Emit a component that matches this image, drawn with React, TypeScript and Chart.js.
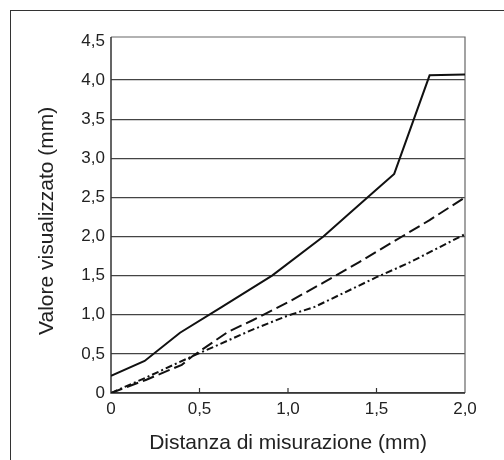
import React, { useEffect, useRef } from 'react';
import { Chart, registerables } from 'chart.js';

Chart.register(...registerables);

const solidX = [0, 0.19, 0.39, 0.62, 0.91, 1.2, 1.34, 1.5, 1.6, 1.8, 2.0];
const solidY = [0.22, 0.41, 0.77, 1.09, 1.5, 2.0, 2.28, 2.6, 2.8, 4.06, 4.07];

const dashX = [0, 0.2, 0.4, 0.46, 0.66, 0.8, 1.0, 1.2, 1.4, 1.6, 1.8, 2.0];
const dashY = [0, 0.17, 0.36, 0.47, 0.78, 0.93, 1.16, 1.41, 1.67, 1.94, 2.21, 2.5];

const dotDashX = [0, 0.2, 0.44, 0.8, 1.0, 1.15, 1.5, 1.68, 2.0];
const dotDashY = [0, 0.2, 0.45, 0.81, 0.99, 1.1, 1.48, 1.66, 2.03];

const xTickValues = [0, 0.5, 1, 1.5, 2];
const xTickLabels = ['0', '0,5', '1,0', '1,5', '2,0'];
const yTickValues = [0, 0.5, 1, 1.5, 2, 2.5, 3, 3.5, 4, 4.5];
const yTickLabels = ['0', '0,5', '1,0', '1,5', '2,0', '2,5', '3,0', '3,5', '4,0', '4,5'];

const xTitle = 'Distanza di misurazione (mm)';
const yTitle = 'Valore visualizzato (mm)  ';

const FONT = "'Liberation Sans', Arial, Helvetica, sans-serif";
const TEXT = '#222';

const toPoints = (xs: number[], ys: number[]) => xs.map((x, i) => ({ x, y: ys[i] }));

const framePlugin = {
  id: 'frame',
  beforeDatasetsDraw(chart: any) {
    const { ctx, chartArea: a, scales } = chart;
    ctx.save();
    ctx.strokeStyle = '#666';
    ctx.lineWidth = 1.2;
    ctx.beginPath();
    ctx.moveTo(a.left, a.top);
    ctx.lineTo(a.right, a.top);
    ctx.lineTo(a.right, a.bottom);
    ctx.stroke();
    ctx.strokeStyle = '#333';
    ctx.lineWidth = 1.5;
    ctx.beginPath();
    ctx.moveTo(a.left, a.top);
    ctx.lineTo(a.left, a.bottom);
    ctx.lineTo(a.right, a.bottom);
    ctx.stroke();
    ctx.lineWidth = 1.2;
    const sx = scales.x;
    xTickValues.forEach((v) => {
      if (v > sx.min && v < sx.max) {
        const px = sx.getPixelForValue(v);
        ctx.beginPath();
        ctx.moveTo(px, a.bottom);
        ctx.lineTo(px, a.bottom - 5);
        ctx.stroke();
      }
    });
    ctx.restore();
  },
};

export default function App() {
  const ref = useRef<HTMLCanvasElement | null>(null);

  useEffect(() => {
    if (!ref.current) return;
    const lineBase = {
      borderColor: '#111',
      borderWidth: 2,
      pointRadius: 0,
      showLine: true,
      fill: false,
      tension: 0,
    };
    const chart = new Chart(ref.current, {
      type: 'scatter',
      data: {
        datasets: [
          { ...lineBase, label: 'A', data: toPoints(solidX, solidY) },
          { ...lineBase, label: 'B', data: toPoints(dashX, dashY), borderDash: [12, 5] },
          { ...lineBase, label: 'C', data: toPoints(dotDashX, dotDashY), borderDash: [7, 3, 2, 3] },
        ],
      },
      options: {
        responsive: false,
        animation: false,
        layout: { padding: { top: 37, right: 39, left: 0, bottom: 0 } },
        plugins: { legend: { display: false }, tooltip: { enabled: false } },
        scales: {
          x: {
            type: 'linear',
            min: 0,
            max: 2,
            afterBuildTicks: (s: any) => {
              s.ticks = xTickValues.map((v) => ({ value: v }));
            },
            afterFit: (s: any) => {
              s.height = 67;
            },
            grid: { display: false, drawTicks: false },
            border: { display: false },
            ticks: {
              callback: (_v: any, i: number) => xTickLabels[i],
              padding: 6,
              maxRotation: 0,
              autoSkip: false,
              color: TEXT,
              font: { family: FONT, size: 17 },
            },
            title: {
              display: true,
              text: xTitle,
              color: TEXT,
              font: { family: FONT, size: 21 },
              padding: { top: 0, bottom: 4 },
            },
          },
          y: {
            type: 'linear',
            min: 0,
            max: 4.55,
            afterBuildTicks: (s: any) => {
              s.ticks = yTickValues.map((v) => ({ value: v }));
            },
            afterFit: (s: any) => {
              s.width = 111;
            },
            grid: {
              color: (c: any) => (c.tick && c.tick.value === 4.5 ? 'rgba(0,0,0,0)' : '#444'),
              lineWidth: 1.2,
              drawTicks: false,
            },
            border: { display: false },
            ticks: {
              callback: (_v: any, i: number) => yTickLabels[i],
              padding: 6,
              autoSkip: false,
              color: TEXT,
              font: { family: FONT, size: 17 },
            },
            title: {
              display: true,
              text: yTitle,
              color: TEXT,
              font: { family: FONT, size: 21 },
              padding: { top: 35, bottom: 0 },
            },
          },
        },
      },
      plugins: [framePlugin],
    } as any);
    return () => chart.destroy();
  }, []);

  return (
    <div style={{ position: 'fixed', left: 0, top: 0, width: 504, height: 460, background: '#fff' }}>
      <div
        style={{
          position: 'absolute',
          left: 10,
          top: 10,
          width: 494,
          height: 450,
          borderLeft: '1.5px solid #333',
          borderTop: '1.5px solid #333',
          boxSizing: 'border-box',
        }}
      />
      <canvas ref={ref} width={504} height={460} style={{ position: 'absolute', left: 0, top: 0 }} />
    </div>
  );
}
